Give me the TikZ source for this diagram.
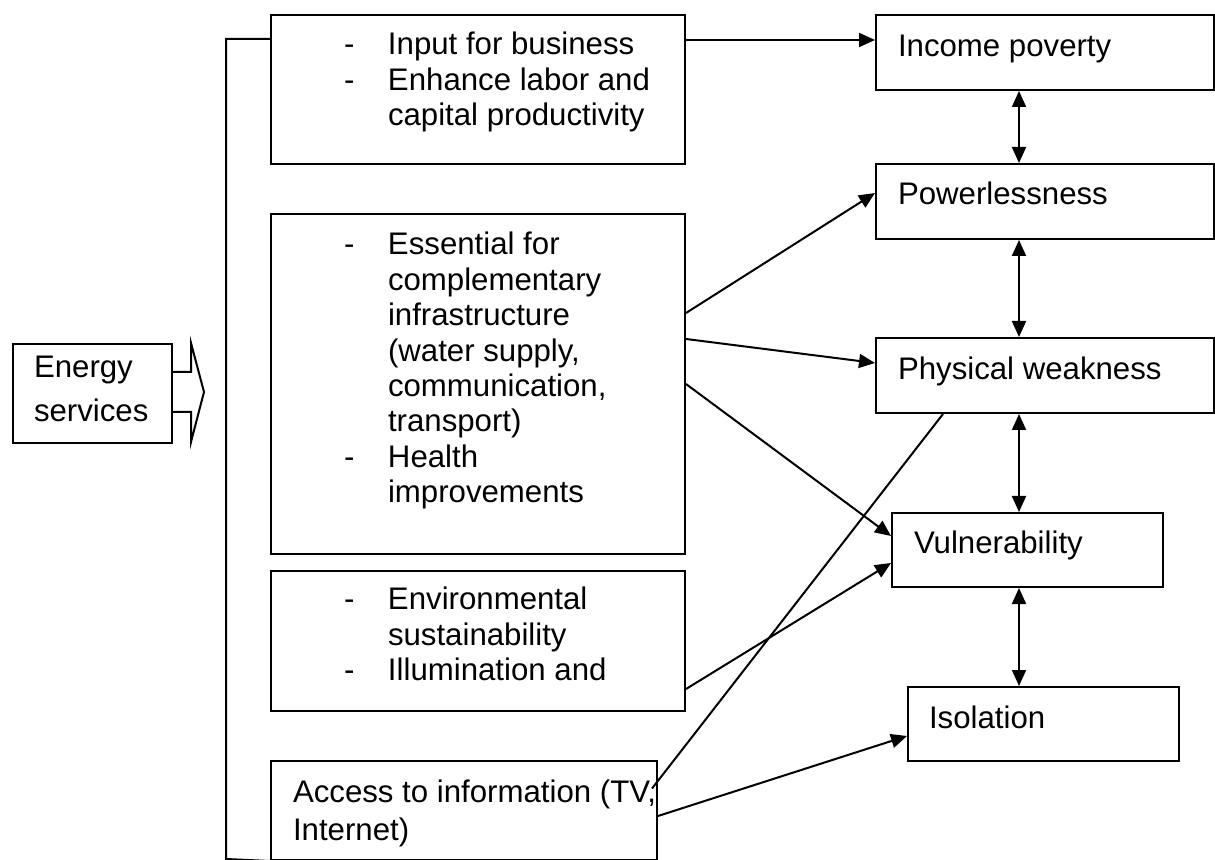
\documentclass[tikz,border=0pt]{standalone}
\usepackage{fontspec}
\setmainfont{Liberation Sans}
\usetikzlibrary{arrows.meta}

\begin{document}
\begin{tikzpicture}[
  x=0.5pt, y=-0.5pt,
  line width=1pt,
  every node/.style={font=\fontsize{15.6pt}{17.7pt}\selectfont},
  box/.style={draw, rectangle, inner sep=0pt, anchor=north west},
  txt/.style={inner sep=0pt, anchor=base west, align=left},
  link/.style={-{Triangle[length=8pt,width=7pt]}},
  both/.style={{Triangle[length=8pt,width=7pt]}-{Triangle[length=8pt,width=7pt]}},
]
\useasboundingbox (0,0) rectangle (1215,860);

% left side
\node[box, minimum width=79.5pt, minimum height=49.5pt] (energy) at (12,343) {};
\node[txt] (energyT) at (33,378) {\begin{tabular}[t]{@{}l@{}}
  Energy\\[4.3pt]
  services
\end{tabular}};
\draw (energy.east |- 0,372) -- (191,372) -- (191,343) -- (204,392)
  -- (191,442) -- (191,412) -- (energy.east |- 0,412);

% middle column
\node[box, minimum width=207pt, minimum height=74.5pt] (inp) at (270,14) {};
\node[box, minimum width=207pt, minimum height=170pt] (ess) at (270,213) {};
\node[box, minimum width=207pt, minimum height=70pt] (env) at (270,570) {};
\node[box, minimum width=193pt, minimum height=49.5pt] (acc) at (270,760) {};
\draw (inp.west |- 0,39) -- (226,39) -- (226,859) -- (acc.south west);

\node[txt] (inpT) at (343,55) {\begin{tabular}[t]{@{}p{22pt}@{}l@{}}
  - & Input for business\\
  - & Enhance labor and\\
    & capital productivity
\end{tabular}};
\node[txt] (essT) at (343,255) {\begin{tabular}[t]{@{}p{22pt}@{}l@{}}
  - & Essential for\\
    & complementary\\
    & infrastructure\\
    & (water supply,\\
    & communication,\\
    & transport)\\
  - & Health\\
    & improvements
\end{tabular}};
\node[txt] (envT) at (343,610) {\begin{tabular}[t]{@{}p{22pt}@{}l@{}}
  - & Environmental\\
    & sustainability\\
  - & Illumination and
\end{tabular}};
\node[txt] (accT) at (292,802) {\begin{tabular}[t]{@{}l@{}}
  Access to information (TV,\\[1.3pt]
  Internet)
\end{tabular}};

% right column
\node[box, minimum width=169pt, minimum height=37.5pt] (inc) at (875,14) {};
\node[box, minimum width=169pt, minimum height=37.5pt] (pow) at (875,163) {};
\node[box, minimum width=169pt, minimum height=37.5pt] (phy) at (875,337) {};
\node[box, minimum width=135.5pt, minimum height=37pt] (vul) at (891,512) {};
\node[box, minimum width=135.5pt, minimum height=37pt] (iso) at (907,686) {};
\node[txt] (incT) at (897,57) {Income poverty};
\node[txt] (powT) at (897,205) {Powerlessness};
\node[txt] (phyT) at (897,380) {Physical weakness};
\node[txt] (vulT) at (913,553) {Vulnerability};
\node[txt] (isoT) at (928,728) {Isolation};

\coordinate (col) at (1019,0);
\draw[both] (inc.south -| col) -- (pow.north -| col);
\draw[both] (pow.south -| col) -- (phy.north -| col);
\draw[both] (phy.south -| col) -- (vul.north -| col);
\draw[both] (vul.south -| col) -- (iso.north -| col);

% links
\draw[link] (inp.east |- 0,40) -- (inc.west |- 0,40);
\draw[link] ([yshift=35.5pt]ess.east) -- ([yshift=4.25pt]pow.west);
\draw[link] ([yshift=22.5pt]ess.east) -- ([yshift=6.25pt]phy.west);
\draw[link] (ess.east) -- ([yshift=7pt]vul.west);
\draw[link] ([yshift=-24pt]env.east) -- ([yshift=-6.5pt]vul.west);
\draw[link] ([yshift=-2.75pt]acc.east) -- ([yshift=-6pt]iso.west);
\draw ([xshift=-3pt,yshift=11pt]acc.east) -- ([xshift=34pt]phy.south west);
\end{tikzpicture}
\end{document}
